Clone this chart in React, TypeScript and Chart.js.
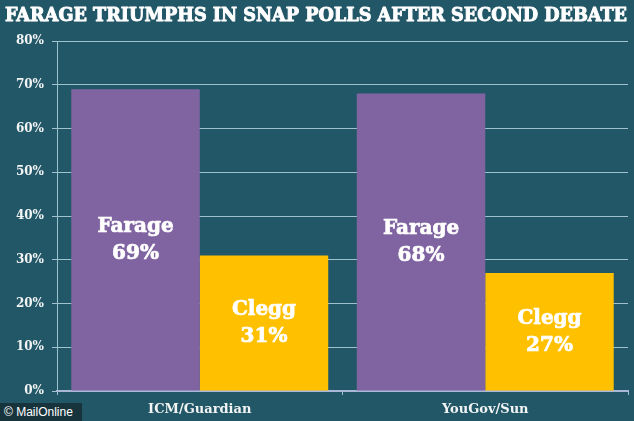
import React, { useEffect, useRef } from "react";
import { Chart, registerables } from "chart.js";

Chart.register(...registerables);

const TITLE = "FARAGE TRIUMPHS IN SNAP POLLS AFTER SECOND DEBATE";
const categories = ["ICM/Guardian", "YouGov/Sun"];
const farageValues = [69, 68];
const cleggValues = [31, 27];
const seriesNames = ["Farage", "Clegg"];
const yTicks = [0, 10, 20, 30, 40, 50, 60, 70, 80];

const BG = "#225767";
const GRID = "#9fc3cc";
const TEXT = "#f2f4f4";
const SERIF = "'DejaVu Serif', serif";

const bgPlugin = {
  id: "bgFill",
  beforeDraw(chart: any) {
    const { ctx, width, height } = chart;
    ctx.save();
    ctx.fillStyle = BG;
    ctx.fillRect(0, 0, width, height);
    ctx.restore();
  },
};

const titlePlugin = {
  id: "fitTitle",
  afterDraw(chart: any) {
    const { ctx } = chart;
    ctx.save();
    ctx.font = "bold 19px 'DejaVu Serif Condensed', 'DejaVu Serif', serif";
    ctx.fillStyle = "#ffffff";
    ctx.strokeStyle = "#ffffff";
    ctx.lineWidth = 0.9;
    ctx.lineJoin = "round";
    ctx.textBaseline = "alphabetic";
    ctx.textAlign = "left";
    const w = ctx.measureText(TITLE).width;
    const target = 622;
    ctx.translate(5, 21);
    ctx.scale(target / w, 1);
    ctx.fillText(TITLE, 0, 0);
    ctx.strokeText(TITLE, 0, 0);
    ctx.restore();
  },
};

const barLabelPlugin = {
  id: "barLabels",
  afterDatasetsDraw(chart: any) {
    const { ctx } = chart;
    ctx.save();
    ctx.font = "bold 20px " + SERIF;
    ctx.fillStyle = "#ffffff";
    ctx.strokeStyle = "#ffffff";
    ctx.lineWidth = 0.7;
    ctx.lineJoin = "round";
    ctx.textAlign = "center";
    ctx.textBaseline = "middle";
    chart.data.datasets.forEach((ds: any, di: number) => {
      const meta = chart.getDatasetMeta(di);
      meta.data.forEach((bar: any, i: number) => {
        const cy = (bar.y + bar.base) / 2;
        const l1 = seriesNames[di];
        const l2 = ds.data[i] + "%";
        ctx.fillText(l1, bar.x, cy - 13);
        ctx.strokeText(l1, bar.x, cy - 13);
        ctx.fillText(l2, bar.x, cy + 14);
        ctx.strokeText(l2, bar.x, cy + 14);
      });
    });
    ctx.restore();
  },
};

export default function App() {
  const ref = useRef<HTMLCanvasElement>(null);
  useEffect(() => {
    document.body.style.margin = "0";
    const chart = new Chart(ref.current!, {
      type: "bar",
      data: {
        labels: categories,
        datasets: [
          {
            label: seriesNames[0],
            data: farageValues,
            backgroundColor: "#8064a2",
            categoryPercentage: 0.9,
            barPercentage: 1,
          },
          {
            label: seriesNames[1],
            data: cleggValues,
            backgroundColor: "#ffc000",
            categoryPercentage: 0.9,
            barPercentage: 1,
          },
        ],
      },
      options: {
        animation: false,
        responsive: false,
        devicePixelRatio: 1,
        layout: { padding: { top: 41, right: 6, left: 0, bottom: 0 } },
        plugins: {
          legend: { display: false },
          title: { display: false },
          tooltip: { enabled: false },
        },
        scales: {
          x: {
            grid: {
              offset: true,
              drawOnChartArea: false,
              drawTicks: true,
              tickLength: 4,
              color: GRID,
            },
            border: { display: true, color: "#a8b8d6", width: 2 },
            ticks: {
              color: TEXT,
              font: { family: SERIF, weight: "bold", size: 13 },
              padding: 7,
            },
            afterFit(scale: any) {
              scale.height = 30;
            },
          },
          y: {
            min: 0,
            max: 80,
            afterBuildTicks(scale: any) {
              scale.ticks = yTicks.map((v) => ({ value: v }));
            },
            grid: {
              color: GRID,
              lineWidth: 1,
              drawTicks: true,
              tickLength: 5,
            },
            border: { display: true, color: GRID, width: 1 },
            ticks: {
              color: TEXT,
              font: { family: SERIF, weight: "bold", size: 12 },
              padding: 8,
              callback: (v: any) => v + "%",
            },
            afterFit(scale: any) {
              scale.width = 57;
            },
          },
        },
      },
      plugins: [bgPlugin, titlePlugin, barLabelPlugin],
    });
    return () => chart.destroy();
  }, []);
  return (
    <div style={{ position: "relative", width: 634, height: 421 }}>
      <canvas ref={ref} width={634} height={421} style={{ display: "block" }} />
      <div
        style={{
          position: "absolute",
          left: 0,
          top: 403,
          width: 82,
          height: 18,
          background: "#17343d",
          color: "#ffffff",
          fontFamily: "'Liberation Sans', Arial, sans-serif",
          fontSize: 12,
          lineHeight: "18px",
          paddingLeft: 4,
          boxSizing: "border-box",
          whiteSpace: "nowrap",
        }}
      >
        © MailOnline
      </div>
    </div>
  );
}
